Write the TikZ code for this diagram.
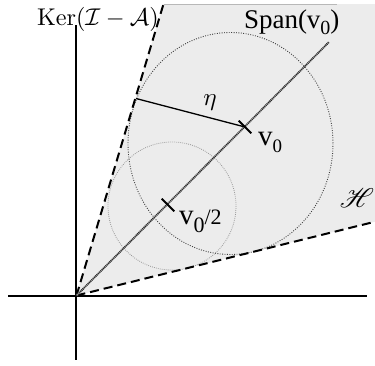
\documentclass[tikz,border=0pt]{standalone}
\usepackage{fontspec}
\usepackage{mathrsfs}
\usepackage{graphicx}
\usetikzlibrary{calc}
\newfontfamily\tms{Liberation Serif}
\definecolor{regiongray}{RGB}{236,236,236}
\begin{document}
\begin{tikzpicture}[x=1pt,y=-1pt,
  axis/.style={line width=1.7pt,black},
  bound/.style={line width=2pt,black,dash pattern=on 9pt off 5pt},
  spanline/.style={line width=1.8pt,black!35},
  spandots/.style={line width=1.8pt,black!85,dash pattern=on 0.8pt off 1pt},
  tickmark/.style={line width=1.9pt,black},
  bigc/.style={black!75,line width=0.9pt,dash pattern=on 0.9pt off 1.5pt},
  smallc/.style={black!40,line width=0.8pt,dash pattern=on 0.8pt off 1.2pt},
  lab/.style={inner sep=0pt,outer sep=0pt}]
\useasboundingbox (0,0) rectangle (375,365);
\coordinate (O) at (76.5,295.5);
\coordinate (K) at (163.5,4);
\coordinate (TR) at (375,4);
\coordinate (TE) at (337,4);
\coordinate (R) at (375,221.7);
\fill[regiongray] (O) -- (K) -- (TR) -- (R) -- cycle;
\draw[black!28,line width=0.8pt] (K) -- (TE);
\coordinate (BC) at (230.5,143.5);
\coordinate (SC) at (172,206);
\draw[bigc] (BC) ellipse [x radius=102.5, y radius=111];
\draw[smallc] (SC) circle [radius=64];
\coordinate (xl) at (8,296);
\coordinate (xr) at (367,296);
\coordinate (yt) at (76,25);
\coordinate (yb) at (76,360);
\draw[axis] (xl) -- (xr);
\draw[axis] (yt) -- (yb);
\draw[bound] (O) -- (K);
\draw[bound] (O) -- (R);
\coordinate (S) at (329,42);
\draw[spanline] (O) -- (S);
\draw[spandots] (O) -- (S);
\coordinate (v0) at (245,127);
\coordinate (vh) at (168,205);
\draw[tickmark] ($(v0)+(-6.3,-6.3)$) -- ($(v0)+(6.3,6.3)$);
\draw[tickmark] ($(vh)+(-6.3,-6.3)$) -- ($(vh)+(6.3,6.3)$);
\coordinate (E) at (136,98.5);
\draw[line width=1.3pt] (E) -- (v0);
\node[lab] (eta) at (210,103) {\scalebox{2.5}{$\eta$}};
\node[lab,anchor=base west] (v0lab) at (258,145)
  {\tms\fontsize{29}{29}\selectfont v\raisebox{-7.5pt}{\fontsize{19}{19}\selectfont 0}};
\node[lab,anchor=base west] (vhlab) at (179,224)
  {\tms\fontsize{29}{29}\selectfont v\raisebox{-8pt}{\fontsize{22}{22}\selectfont 0}\fontsize{22}{22}\selectfont/2};
\node[lab,anchor=base west] (spanlab) at (244,28.3)
  {\tms\fontsize{27}{27}\selectfont Span(v\raisebox{-6.5pt}{\fontsize{20}{20}\selectfont 0})};
\node[lab,anchor=base west] (kerlab) at (37,25)
  {\scalebox{2.42}{$\mathrm{Ker}(\mathcal{I}-\mathcal{A})$}};
\node[lab] (hlab) at (357,198) {\scalebox{2.7}{$\mathscr{H}$}};
\end{tikzpicture}
\end{document}
